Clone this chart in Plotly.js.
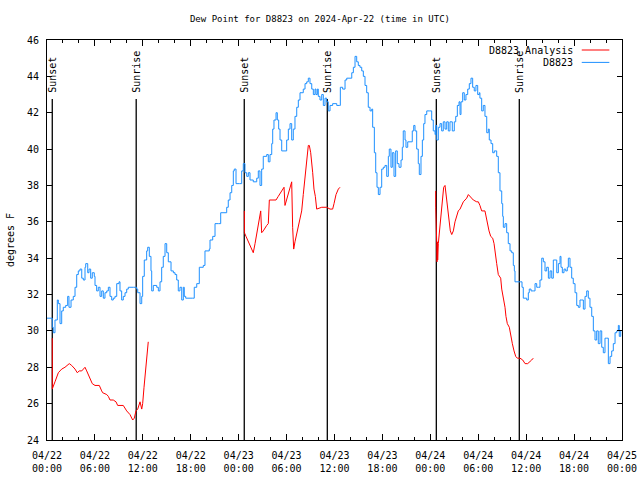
<!DOCTYPE html>
<html><head><meta charset="utf-8">
<script src="https://cdn.plot.ly/plotly-3.0.1.min.js"></script>
<style>html,body{margin:0;padding:0;background:#fff}#chart{width:640px;height:480px}</style>
</head><body><div id="chart"></div>
<script>
// hours since 2024-04-22 00:00 UTC
const stationHours = [0,0.66,0.79,1.00,1.29,1.42,1.63,1.84,2.04,2.34,
2.59,2.75,3.01,3.29,3.51,3.72,3.92,4.13,4.35,4.55,
4.76,4.85,5.10,5.26,5.47,5.67,5.92,6.01,6.22,6.42,
6.64,6.85,7.05,7.26,7.48,7.68,7.89,8.10,8.30,8.51,
8.73,9.02,9.14,9.35,9.55,9.77,9.98,10.18,10.81,11.23,
11.36,11.65,11.86,11.98,12.18,12.48,12.61,12.81,13.02,13.11,
13.31,13.74,13.94,14.15,14.36,14.56,14.78,14.99,15.19,15.53,
15.82,16.03,16.24,16.44,16.65,16.87,17.07,17.19,17.37,17.91,
18.24,18.44,18.75,19.07,19.57,19.78,20.32,20.41,20.75,21.04,
21.45,21.75,22.29,22.50,22.70,22.92,23.13,23.33,23.45,23.67,
24.08,24.38,24.58,24.79,25.01,25.21,25.42,25.83,26.26,26.46,
26.67,26.88,27.08,27.51,27.71,27.92,28.14,28.26,28.42,28.68,
28.84,29.01,29.18,29.39,29.80,30.01,30.22,30.43,30.64,30.84,
31.05,31.27,31.47,31.68,32.09,32.31,32.52,32.72,32.93,33.15,
33.35,33.56,33.68,33.85,33.97,34.18,34.40,34.60,34.81,35.02,
35.22,35.44,35.77,36.28,36.60,36.73,37.02,37.32,37.53,37.94,
38.16,38.36,38.57,38.78,38.98,39.19,39.41,39.61,39.82,40.03,
40.23,40.45,40.66,40.78,40.99,41.16,41.32,41.49,41.70,41.91,
42.11,42.32,42.54,42.74,42.86,43.07,43.24,43.45,43.66,43.86,
44.08,44.33,44.49,44.61,44.83,44.95,45.17,45.58,45.74,45.92,
46.08,46.29,46.49,46.62,46.83,47.00,47.17,47.33,47.55,47.87,
48.17,48.37,48.59,48.67,48.80,49.00,49.21,49.42,49.62,49.84,
50.05,50.25,50.46,50.75,51.00,51.18,51.38,51.59,51.72,51.84,
52.05,52.25,52.46,52.68,52.88,53.09,53.30,53.50,53.71,53.93,
54.13,54.21,54.43,54.63,54.84,55.06,55.26,55.38,55.60,55.81,
56.01,56.31,56.51,56.72,56.94,57.06,57.14,57.35,57.56,57.76,
57.98,58.19,58.39,58.52,58.60,59.32,59.48,59.64,60.07,60.27,
60.39,60.61,60.89,61.11,61.32,61.52,61.73,61.95,62.15,62.36,
62.57,62.78,62.99,63.20,63.40,63.61,63.83,64.03,64.24,64.36,
64.53,64.74,64.95,65.15,65.28,65.49,65.70,65.90,66.12,66.33,
66.53,66.74,66.95,67.16,67.37,67.58,67.78,67.99,68.21,68.41,
68.62,68.83,69.03,69.25,69.46,69.66,69.87,70.09,70.29,70.50,
70.71,70.91,71.13,71.34,71.54,71.66,71.84];
const stationDew = [30.7,30.2,29.9,30.6,31.7,31.5,30.4,31.1,31.3,31.4,
31.9,31.3,31.7,31.9,32.4,33.1,33.3,33.4,32.9,32.8,
33.5,33.7,33.2,33.4,32.9,33.2,33.0,32.5,32.2,32.4,
31.9,32.2,31.8,32.1,32.2,32.4,31.9,31.7,31.8,31.9,
32.6,32.7,32.2,31.7,31.9,32.1,32.3,32.4,32.4,32.3,
32.1,31.5,31.9,33.0,33.9,34.4,34.6,34.1,33.3,32.2,
32.5,32.4,32.2,32.7,33.5,34.1,34.8,34.3,33.8,33.3,
33.2,33.1,32.8,32.2,32.4,31.7,32.4,31.9,31.8,31.8,
31.8,32.4,32.6,33.5,33.6,34.4,34.5,35.0,35.2,35.9,
35.9,36.5,36.5,36.8,37.2,37.6,38.0,38.8,38.9,38.1,
38.1,38.8,39.2,38.7,38.5,38.7,38.3,38.2,38.4,38.8,
38.0,38.9,39.6,39.7,39.3,39.7,40.3,41.1,41.6,42.0,
41.6,41.1,40.5,39.9,39.9,40.5,41.1,41.4,40.5,41.1,
41.8,42.3,42.7,43.1,43.3,43.6,43.7,43.9,43.6,43.3,
43.0,43.3,43.0,43.3,42.9,42.7,43.0,42.4,42.8,42.6,
42.1,42.4,42.5,42.4,42.4,43.4,43.3,43.8,43.9,43.9,
44.2,44.5,45.1,44.8,44.6,44.5,44.3,44.0,43.5,43.1,
42.3,42.1,42.2,41.2,39.8,38.7,37.9,37.5,37.9,38.9,
39.0,39.1,38.5,39.6,40.0,39.0,39.8,38.5,39.9,39.2,
39.0,39.4,40.1,41.0,40.5,40.1,40.4,40.4,41.0,41.3,
41.0,40.0,39.2,38.6,39.6,40.5,41.4,41.9,42.1,42.1,
41.6,41.0,40.8,41.3,40.5,41.2,41.4,41.0,41.5,41.1,
41.5,41.0,41.5,41.0,41.5,41.8,42.4,42.6,41.9,42.6,
43.1,42.7,43.0,43.3,43.6,43.9,43.4,43.2,43.5,43.0,
43.1,42.8,42.1,42.4,41.8,40.9,41.1,40.5,40.3,39.8,
39.9,39.6,38.7,37.7,37.0,36.3,35.7,35.9,35.4,34.8,
34.4,34.3,33.6,33.3,32.7,32.7,32.4,31.8,31.7,32.1,
32.3,32.2,32.2,32.6,32.4,32.4,32.8,34.0,33.8,33.3,
33.5,32.9,33.3,32.9,33.9,33.9,33.2,33.7,34.1,33.5,
33.2,33.4,33.3,33.5,34.0,33.5,32.9,32.6,32.1,31.4,
31.3,31.7,31.7,31.2,31.9,32.2,31.8,31.3,30.8,30.0,
29.5,30.0,29.3,30.0,29.1,28.8,29.6,29.6,28.2,28.6,
28.9,29.3,29.9,30.0,30.3,29.7,30.0];

// analysis: three evening runs, separated by null gaps
const analysisHours = [0.66,0.67,0.70,0.74,1.00,1.21,1.42,1.63,1.84,2.25,2.79,3.09,3.51,3.79,4.04,4.35,4.76,4.97,5.17,5.38,5.67,6.01,6.55,6.85,6.97,7.48,7.68,7.89,8.30,8.64,8.85,9.55,9.77,9.98,10.39,10.73,10.93,11.14,11.36,11.56,11.65,11.86,11.98,12.15,12.27,12.40,12.56,12.68,
null,
24.71,24.72,24.92,25.21,25.54,25.83,26.05,26.26,26.46,26.59,26.76,26.88,27.08,27.51,27.71,27.84,28.68,28.96,29.39,29.68,29.80,30.01,30.22,30.64,30.76,30.89,31.05,31.27,31.47,31.68,31.89,32.09,32.31,32.52,32.72,32.85,33.02,33.27,33.43,33.60,33.77,34.40,35.02,35.44,35.77,35.94,36.19,36.48,36.69,
null,
48.67,48.68,48.80,48.84,48.88,48.92,49.00,49.12,49.30,49.42,49.55,49.67,49.84,49.96,50.12,50.34,50.50,50.68,50.88,51.09,51.30,51.50,51.72,51.93,52.13,52.34,52.55,52.76,52.97,53.18,53.38,53.81,54.01,54.21,54.43,54.84,54.96,55.13,55.35,55.56,55.81,55.98,56.10,56.31,56.51,56.81,56.94,57.14,57.35,57.47,57.64,57.89,58.06,58.27,58.48,58.69,58.89,59.23,59.57,59.86,60.19,60.48,60.69,60.89];
const analysisDew = [29.6,26.8,28.1,26.9,27.2,27.5,27.7,27.8,27.9,28.0,28.2,28.1,27.9,27.7,27.8,27.8,28.0,27.8,27.6,27.3,27.1,27.0,27.0,26.7,26.6,26.5,26.4,26.2,26.2,26.1,25.9,25.9,25.7,25.6,25.4,25.1,25.2,25.6,25.7,26.0,26.1,25.7,26.0,26.9,27.5,28.0,28.6,29.4,
null,
36.6,35.4,35.2,34.9,34.5,34.3,34.8,35.4,35.9,36.3,36.6,35.4,35.5,35.8,35.9,37.2,37.2,37.4,37.7,37.9,36.9,37.2,37.6,38.2,35.7,34.5,34.9,35.4,35.7,36.2,36.6,37.5,38.5,39.6,40.2,40.2,39.8,38.7,37.8,37.4,36.7,36.8,36.8,36.7,36.7,37.0,37.5,37.8,37.9,
null,
37.7,36.8,34.8,33.8,34.9,33.9,34.8,35.4,36.1,37.0,37.5,37.9,38.0,37.6,36.8,36.1,35.5,35.3,35.5,36.0,36.3,36.6,36.7,36.9,37.1,37.2,37.3,37.5,37.4,37.3,37.2,37.1,37.1,36.9,36.6,36.6,36.3,35.9,35.5,35.2,35.1,34.8,34.3,33.7,33.1,32.9,32.3,31.9,31.3,30.8,30.4,30.2,29.7,29.3,28.9,28.6,28.5,28.5,28.4,28.2,28.2,28.3,28.4,28.5];

const sunHours = [0.66, 11.17, 24.70, 35.10, 48.75, 59.14];
const sunLabels = ['Sunset','Sunrise','Sunset','Sunrise','Sunset','Sunrise'];

const xTickHours = [0,6,12,18,24,30,36,42,48,54,60,66,72];
const xTickLabels = ['04/22<br>00:00','04/22<br>06:00','04/22<br>12:00','04/22<br>18:00',
  '04/23<br>00:00','04/23<br>06:00','04/23<br>12:00','04/23<br>18:00',
  '04/24<br>00:00','04/24<br>06:00','04/24<br>12:00','04/24<br>18:00','04/25<br>00:00'];
const yTicks = [24,26,28,30,32,34,36,38,40,42,44,46];

const seriesNames = ['D8823 Analysis', 'D8823'];
const seriesColors = ['#ff0000', '#1e90ff'];

const FONT = 'DejaVu Sans Mono';

const traces = [
  {x: analysisHours, y: analysisDew, type: 'scatter', mode: 'lines', name: seriesNames[0],
   line: {color: seriesColors[0], width: 1}, connectgaps: false, hoverinfo: 'skip'},
  {x: stationHours, y: stationDew, type: 'scatter', mode: 'lines', name: seriesNames[1],
   line: {color: seriesColors[1], width: 1, shape: 'hv'}, hoverinfo: 'skip'}
];

const shapes = sunHours.map(h => ({type: 'line', layer: 'below', xref: 'x', yref: 'paper', x0: h, x1: h, y0: 0, y1: 0.8525,
  line: {color: '#000', width: 1.3}}));
const annotations = sunHours.map((h, i) => ({xref: 'x', yref: 'paper', x: h, y: 0.866, yanchor: 'bottom', xanchor: 'center',
  text: sunLabels[i], textangle: -90, showarrow: false, font: {family: FONT, size: 10, color: '#000'}, borderpad: 0}));

// legend drawn gnuplot-style: label then sample line
const legendY = [0.975, 0.944];
seriesNames.forEach((n, i) => {
  annotations.push({xref: 'paper', yref: 'paper', x: 0.9165, y: legendY[i], xanchor: 'right', yanchor: 'middle',
    text: n, showarrow: false, font: {family: FONT, size: 10, color: '#000'}, borderpad: 0});
  shapes.push({type: 'line', xref: 'paper', yref: 'paper', x0: 0.930, x1: 0.978, y0: legendY[i], y1: legendY[i],
    line: {color: seriesColors[i], width: 1}});
});

const layout = {
  width: 640, height: 480,
  margin: {l: 47, r: 18, t: 40, b: 40, pad: 0},
  paper_bgcolor: '#fff', plot_bgcolor: '#fff',
  showlegend: false,
  title: {text: 'Dew Point for D8823 on 2024-Apr-22 (time in UTC)', font: {family: FONT, size: 9, color: '#000'},
    xref: 'container', x: 0.5, xanchor: 'center', yref: 'container', y: 0.96, yanchor: 'middle'},
  xaxis: {range: [0, 72], tickmode: 'array', tickvals: xTickHours, ticktext: xTickLabels,
    ticks: 'inside', ticklen: 6, tickwidth: 1, tickcolor: '#000',
    showline: true, linecolor: '#000', linewidth: 1, mirror: 'allticks', showgrid: false, zeroline: false,
    tickfont: {family: FONT, size: 10, color: '#000'}, ticklabelstandoff: 6,
    minor: {tickmode: 'linear', tick0: 0, dtick: 2, ticks: 'inside', ticklen: 3, tickcolor: '#000', showgrid: false}},
  yaxis: {range: [24, 46], tickmode: 'array', tickvals: yTicks,
    ticks: 'inside', ticklen: 5, tickwidth: 1, tickcolor: '#000',
    showline: true, linecolor: '#000', linewidth: 1, mirror: 'allticks', showgrid: false, zeroline: false,
    tickfont: {family: FONT, size: 10, color: '#000'}, ticklabelstandoff: 5,
    title: {text: 'degrees F', font: {family: FONT, size: 10, color: '#000'}, standoff: 10}},
  shapes: shapes,
  annotations: annotations
};

Plotly.newPlot('chart', traces, layout, {displayModeBar: false, staticPlot: true});
</script>
</body></html>
